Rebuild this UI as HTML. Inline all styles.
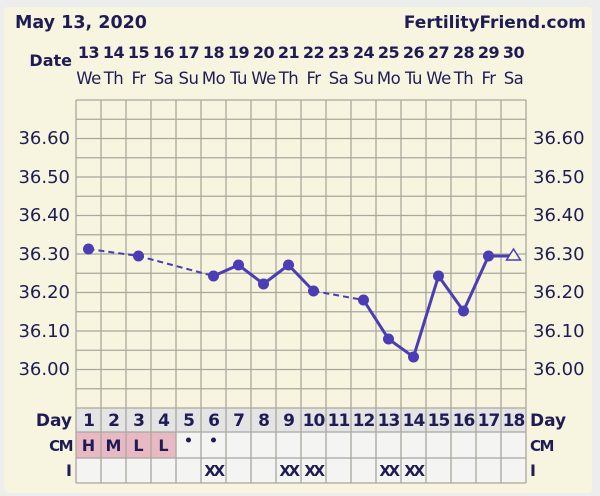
<!DOCTYPE html>
<html><head><meta charset="utf-8"><style>
html,body{margin:0;padding:0;background:#ededed;}
svg{display:block;font-family:"DejaVu Sans","Liberation Sans",sans-serif;}
</style></head><body>
<svg width="600" height="496" viewBox="0 0 600 496" xmlns="http://www.w3.org/2000/svg">
<rect x="0" y="0" width="600" height="496" fill="#ededed"/>
<rect x="4" y="7" width="588" height="486" rx="4" fill="#f7f5e0"/>
<g fill="#1f1c55" font-weight="bold">
<text x="15" y="28" font-size="17.5">May 13, 2020</text>
<text x="586" y="28" font-size="17" text-anchor="end">FertilityFriend.com</text>
<text x="72" y="66" font-size="16" text-anchor="end">Date</text>
</g>
<g fill="#1f1c55" font-weight="bold" font-size="16" text-anchor="middle" letter-spacing="-0.5">
<text x="88.5" y="58">13</text><text x="113.5" y="58">14</text><text x="138.5" y="58">15</text><text x="163.5" y="58">16</text><text x="188.5" y="58">17</text><text x="213.5" y="58">18</text><text x="238.5" y="58">19</text><text x="263.5" y="58">20</text><text x="288.5" y="58">21</text><text x="313.5" y="58">22</text><text x="338.5" y="58">23</text><text x="363.5" y="58">24</text><text x="388.5" y="58">25</text><text x="413.5" y="58">26</text><text x="438.5" y="58">27</text><text x="463.5" y="58">28</text><text x="488.5" y="58">29</text><text x="513.5" y="58">30</text>
</g>
<g fill="#1f1c55" font-size="16.5" text-anchor="middle" letter-spacing="-0.5">
<text x="88.5" y="84">We</text><text x="113.5" y="84">Th</text><text x="138.5" y="84">Fr</text><text x="163.5" y="84">Sa</text><text x="188.5" y="84">Su</text><text x="213.5" y="84">Mo</text><text x="238.5" y="84">Tu</text><text x="263.5" y="84">We</text><text x="288.5" y="84">Th</text><text x="313.5" y="84">Fr</text><text x="338.5" y="84">Sa</text><text x="363.5" y="84">Su</text><text x="388.5" y="84">Mo</text><text x="413.5" y="84">Tu</text><text x="438.5" y="84">We</text><text x="463.5" y="84">Th</text><text x="488.5" y="84">Fr</text><text x="513.5" y="84">Sa</text>
</g>
<rect x="76" y="408" width="450" height="24" fill="#e4e4e4"/>
<rect x="76" y="432" width="450" height="51" fill="#f4f4f2"/>
<rect x="76" y="432" width="100" height="26" fill="#e8b9c2"/>
<g stroke="#a9a89c" stroke-width="1.3">
<line x1="76" y1="100" x2="526" y2="100"/><line x1="76" y1="119.25" x2="526" y2="119.25"/><line x1="76" y1="138.5" x2="526" y2="138.5"/><line x1="76" y1="157.75" x2="526" y2="157.75"/><line x1="76" y1="177" x2="526" y2="177"/><line x1="76" y1="196.25" x2="526" y2="196.25"/><line x1="76" y1="215.5" x2="526" y2="215.5"/><line x1="76" y1="234.75" x2="526" y2="234.75"/><line x1="76" y1="254" x2="526" y2="254"/><line x1="76" y1="273.25" x2="526" y2="273.25"/><line x1="76" y1="292.5" x2="526" y2="292.5"/><line x1="76" y1="311.75" x2="526" y2="311.75"/><line x1="76" y1="331" x2="526" y2="331"/><line x1="76" y1="350.25" x2="526" y2="350.25"/><line x1="76" y1="369.5" x2="526" y2="369.5"/><line x1="76" y1="388.75" x2="526" y2="388.75"/><line x1="76" y1="408" x2="526" y2="408"/>
<line x1="76" y1="432" x2="526" y2="432"/><line x1="76" y1="458" x2="526" y2="458"/><line x1="76" y1="483" x2="526" y2="483"/>
<line x1="76" y1="100" x2="76" y2="483"/><line x1="101" y1="100" x2="101" y2="483"/><line x1="126" y1="100" x2="126" y2="483"/><line x1="151" y1="100" x2="151" y2="483"/><line x1="176" y1="100" x2="176" y2="483"/><line x1="201" y1="100" x2="201" y2="483"/><line x1="226" y1="100" x2="226" y2="483"/><line x1="251" y1="100" x2="251" y2="483"/><line x1="276" y1="100" x2="276" y2="483"/><line x1="301" y1="100" x2="301" y2="483"/><line x1="326" y1="100" x2="326" y2="483"/><line x1="351" y1="100" x2="351" y2="483"/><line x1="376" y1="100" x2="376" y2="483"/><line x1="401" y1="100" x2="401" y2="483"/><line x1="426" y1="100" x2="426" y2="483"/><line x1="451" y1="100" x2="451" y2="483"/><line x1="476" y1="100" x2="476" y2="483"/><line x1="501" y1="100" x2="501" y2="483"/><line x1="526" y1="100" x2="526" y2="483"/>
</g>
<g fill="#1f1c55" font-size="18">
<g text-anchor="end">
<text x="70" y="144">36.60</text><text x="70" y="183">36.50</text><text x="70" y="221">36.40</text><text x="70" y="260">36.30</text><text x="70" y="298">36.20</text><text x="70" y="337">36.10</text><text x="70" y="375">36.00</text>
</g>
<text x="533" y="144">36.60</text><text x="533" y="183">36.50</text><text x="533" y="221">36.40</text><text x="533" y="260">36.30</text><text x="533" y="298">36.20</text><text x="533" y="337">36.10</text><text x="533" y="375">36.00</text>
</g>
<g fill="#1f1c55" font-weight="bold">
<text x="72" y="426" font-size="17" text-anchor="end">Day</text>
<text x="72" y="451" font-size="15" text-anchor="end" letter-spacing="-1.5">CM</text>
<text x="72" y="476" font-size="16" text-anchor="end">I</text>
<text x="530" y="426" font-size="17">Day</text>
<text x="530" y="451" font-size="15" letter-spacing="-1.5">CM</text>
<text x="530" y="476" font-size="16">I</text>
</g>
<g fill="#1f1c55" font-weight="bold" font-size="17" text-anchor="middle" letter-spacing="-1">
<text x="88.5" y="426">1</text><text x="113.5" y="426">2</text><text x="138.5" y="426">3</text><text x="163.5" y="426">4</text><text x="188.5" y="426">5</text><text x="213.5" y="426">6</text><text x="238.5" y="426">7</text><text x="263.5" y="426">8</text><text x="288.5" y="426">9</text><text x="313.5" y="426">10</text><text x="338.5" y="426">11</text><text x="363.5" y="426">12</text><text x="388.5" y="426">13</text><text x="413.5" y="426">14</text><text x="438.5" y="426">15</text><text x="463.5" y="426">16</text><text x="488.5" y="426">17</text><text x="513.5" y="426">18</text>
</g>
<g fill="#1f1c55" font-weight="bold" font-size="16" text-anchor="middle">
<text x="88.5" y="451">H</text><text x="113.5" y="451">M</text><text x="138.5" y="451">L</text><text x="163.5" y="451">L</text>
</g>
<circle cx="188.5" cy="440" r="2.5" fill="#1f1c55"/><circle cx="213.5" cy="440" r="2.5" fill="#1f1c55"/>
<g fill="#1f1c55" font-weight="bold" font-size="15" text-anchor="middle" letter-spacing="-2.5">
<text x="213.5" y="476">XX</text><text x="288.5" y="476">XX</text><text x="313.5" y="476">XX</text><text x="388.5" y="476">XX</text><text x="413.5" y="476">XX</text>
</g>
<g stroke="#4a3db5" stroke-width="3" fill="none">
<polyline points="88.5,249 138.5,256 213.5,276" stroke-dasharray="6,4" stroke-width="2"/>
<polyline points="213.5,276 238.5,265 263.5,284 288.5,265 313.5,291"/>
<polyline points="313.5,291 363.5,300" stroke-dasharray="6,4" stroke-width="2"/>
<polyline points="363.5,300 388.5,339 413.5,357 438.5,276 463.5,311 488.5,256 513.5,256"/>
</g>
<g fill="#4a3db5">
<circle cx="88.5" cy="249" r="5.5"/><circle cx="138.5" cy="256" r="5.5"/><circle cx="213.5" cy="276" r="5.5"/><circle cx="238.5" cy="265" r="5.5"/><circle cx="263.5" cy="284" r="5.5"/><circle cx="288.5" cy="265" r="5.5"/><circle cx="313.5" cy="291" r="5.5"/><circle cx="363.5" cy="300" r="5.5"/><circle cx="388.5" cy="339" r="5.5"/><circle cx="413.5" cy="357" r="5.5"/><circle cx="438.5" cy="276" r="5.5"/><circle cx="463.5" cy="311" r="5.5"/><circle cx="488.5" cy="256" r="5.5"/>
</g>
<polygon points="513.5,249 520.5,260 506.5,260" fill="#f7f5e0" stroke="#4a3db5" stroke-width="1.5"/>
</svg>
</body></html>
